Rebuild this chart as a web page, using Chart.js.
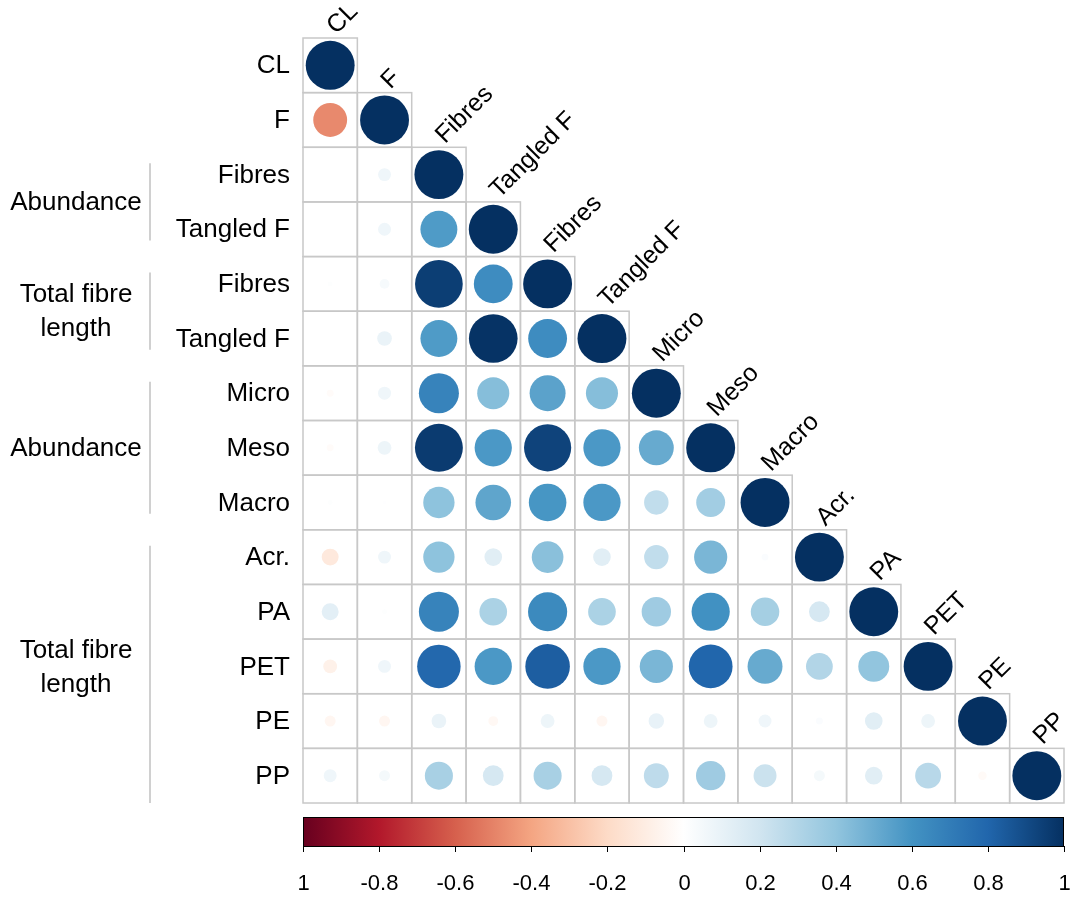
<!DOCTYPE html>
<html><head><meta charset="utf-8">
<script src="https://cdn.jsdelivr.net/npm/chart.js@4/dist/chart.umd.min.js"></script>
<style>html,body{margin:0;padding:0;background:#fff;}#wrap{width:1071px;height:897px;}</style>
</head><body><div id="wrap"><canvas id="c" width="1071" height="897"></canvas></div>
<script>
// ---- data ----
const variables = ["CL","F","Fibres","Tangled F","Fibres","Tangled F","Micro","Meso","Macro","Acr.","PA","PET","PE","PP"];
const groupLabels = [["Abundance"],["Total fibre","length"],["Abundance"],["Total fibre","length"]];
const groupStart = [2,4,6,9];
const groupEnd = [3,5,8,13];
// lower triangle of the correlation matrix, row by row
const corrRows = [
  [1],
  [-0.48, 1],
  [0.00, 0.07, 1],
  [0.00, 0.07, 0.57, 1],
  [0.01, 0.04, 0.95, 0.63, 1],
  [0.00, 0.09, 0.57, 0.99, 0.63, 1],
  [-0.02, 0.07, 0.67, 0.43, 0.54, 0.43, 1],
  [-0.02, 0.08, 0.96, 0.58, 0.93, 0.58, 0.51, 1],
  [0.01, 0.005, 0.41, 0.53, 0.59, 0.58, 0.25, 0.35, 1],
  [-0.12, 0.07, 0.41, 0.13, 0.42, 0.13, 0.25, 0.46, 0.02, 1],
  [0.12, 0.01, 0.67, 0.32, 0.64, 0.32, 0.36, 0.61, 0.34, 0.18, 1],
  [-0.08, 0.07, 0.79, 0.58, 0.83, 0.58, 0.46, 0.80, 0.51, 0.30, 0.40, 1],
  [-0.05, -0.05, 0.09, -0.04, 0.08, -0.05, 0.10, 0.08, 0.07, 0.02, 0.13, 0.08, 1],
  [0.07, 0.05, 0.33, 0.18, 0.33, 0.18, 0.26, 0.36, 0.22, 0.05, 0.13, 0.28, -0.03, 1]
];
const colorbarTicks = [-1,-0.8,-0.6,-0.4,-0.2,0,0.2,0.4,0.6,0.8,1];
const colorbarTickLabels = ["1","-0.8","-0.6","-0.4","-0.2","0","0.2","0.4","0.6","0.8","1"];
const palette = ["#67001F","#B2182B","#D6604D","#F4A582","#FDDBC7","#FFFFFF","#D1E5F0","#92C5DE","#4393C3","#2166AC","#053061"];

// ---- helpers ----
function hex2rgb(h){return [parseInt(h.substr(1,2),16),parseInt(h.substr(3,2),16),parseInt(h.substr(5,2),16)];}
function colorFor(v){
  const t = (Math.max(-1,Math.min(1,v))+1)/2*(palette.length-1);
  const i = Math.min(palette.length-2, Math.floor(t));
  const f = t - i;
  const a = hex2rgb(palette[i]), b = hex2rgb(palette[i+1]);
  const c = a.map((x,k)=>Math.round(x+(b[k]-x)*f));
  return `rgb(${c[0]},${c[1]},${c[2]})`;
}
const N = variables.length;
const points = [];
corrRows.forEach((row,i)=>row.forEach((v,j)=>points.push({x:j+0.5,y:i+0.5,v:v})));

const FONT = '"Liberation Sans", Arial, sans-serif';

const decor = {
  id:'decor',
  beforeDatasetsDraw(chart){
    const {ctx, scales:{x,y}} = chart;
    ctx.save();
    ctx.strokeStyle = '#c8c8c8';
    ctx.lineWidth = 1.5;
    for(let i=0;i<N;i++){
      for(let j=0;j<=i;j++){
        const x0=x.getPixelForValue(j), x1=x.getPixelForValue(j+1);
        const y0=y.getPixelForValue(i), y1=y.getPixelForValue(i+1);
        ctx.strokeRect(x0,y0,x1-x0,y1-y0);
      }
    }
    ctx.restore();
  },
  afterDraw(chart){
    const {ctx, scales:{x,y,cb}, chartArea} = chart;
    ctx.save();
    ctx.fillStyle = '#000';
    // row labels
    ctx.font = '26px '+FONT;
    ctx.textAlign = 'right'; ctx.textBaseline = 'middle';
    variables.forEach((lab,i)=>ctx.fillText(lab, chartArea.left-13, y.getPixelForValue(i+0.5)+1));
    // diagonal column labels
    ctx.font = '25px '+FONT;
    ctx.textAlign = 'left'; ctx.textBaseline = 'alphabetic';
    variables.forEach((lab,j)=>{
      ctx.save();
      ctx.translate(x.getPixelForValue(j+0.5)+6, y.getPixelForValue(j)-3);
      ctx.rotate(-Math.PI/4);
      ctx.fillText(lab,0,0);
      ctx.restore();
    });
    // group labels and brackets
    ctx.font = '26px '+FONT;
    ctx.textAlign = 'center'; ctx.textBaseline = 'middle';
    groupLabels.forEach((lines,g)=>{
      const top = y.getPixelForValue(groupStart[g]);
      const bot = y.getPixelForValue(groupEnd[g]+1);
      const mid = (top+bot)/2;
      lines.forEach((t,k)=>ctx.fillText(t, 76, mid + (k-(lines.length-1)/2)*34 + 1));
      ctx.strokeStyle = '#d0d0d0'; ctx.lineWidth = 2;
      ctx.beginPath();
      ctx.moveTo(150, top+16);
      ctx.lineTo(150, g===groupLabels.length-1 ? bot : bot-16);
      ctx.stroke();
    });
    // colorbar
    const cx0 = cb.getPixelForValue(-1), cx1 = cb.getPixelForValue(1);
    const by0 = chartArea.bottom+14, by1 = chartArea.bottom+43;
    const grad = ctx.createLinearGradient(cx0,0,cx1,0);
    palette.forEach((c,k)=>grad.addColorStop(k/(palette.length-1), c));
    ctx.fillStyle = grad;
    ctx.fillRect(cx0,by0,cx1-cx0,by1-by0);
    ctx.strokeStyle = '#000'; ctx.lineWidth = 1;
    ctx.strokeRect(cx0+0.5,by0+0.5,cx1-cx0-1,by1-by0);
    ctx.fillStyle = '#000';
    ctx.font = '22px '+FONT;
    ctx.textAlign = 'center'; ctx.textBaseline = 'middle';
    colorbarTicks.forEach((v,k)=>{
      const px = Math.round(cb.getPixelForValue(v))+0.5;
      ctx.beginPath(); ctx.moveTo(px,by1); ctx.lineTo(px,by1+6); ctx.stroke();
      ctx.fillText(colorbarTickLabels[k], px, by1+38);
    });
    ctx.restore();
  }
};

new Chart(document.getElementById('c'), {
  type:'scatter',
  data:{datasets:[{
    data: points,
    pointStyle:'circle',
    borderWidth:0,
    pointBorderWidth:0,
    pointRadius: c => { const xs=c.chart.scales.x; const cw=xs.getPixelForValue(1)-xs.getPixelForValue(0); return 0.45*cw*Math.sqrt(Math.abs(c.raw.v)); },
    pointHoverRadius: c => { const xs=c.chart.scales.x; const cw=xs.getPixelForValue(1)-xs.getPixelForValue(0); return 0.45*cw*Math.sqrt(Math.abs(c.raw.v)); },
    pointBackgroundColor: c => colorFor(c.raw.v),
    pointHoverBackgroundColor: c => colorFor(c.raw.v)
  }]},
  options:{
    responsive:false, animation:false, devicePixelRatio:1,
    layout:{padding:{left:303,top:38,right:7,bottom:94}},
    plugins:{legend:{display:false}, tooltip:{enabled:false}},
    events:[],
    scales:{
      x:{type:'linear',min:0,max:N,display:false},
      y:{type:'linear',min:0,max:N,reverse:true,display:false},
      cb:{type:'linear',axis:'x',position:'bottom',min:-1,max:1,display:false}
    }
  },
  plugins:[decor]
});
</script>
</body></html>
